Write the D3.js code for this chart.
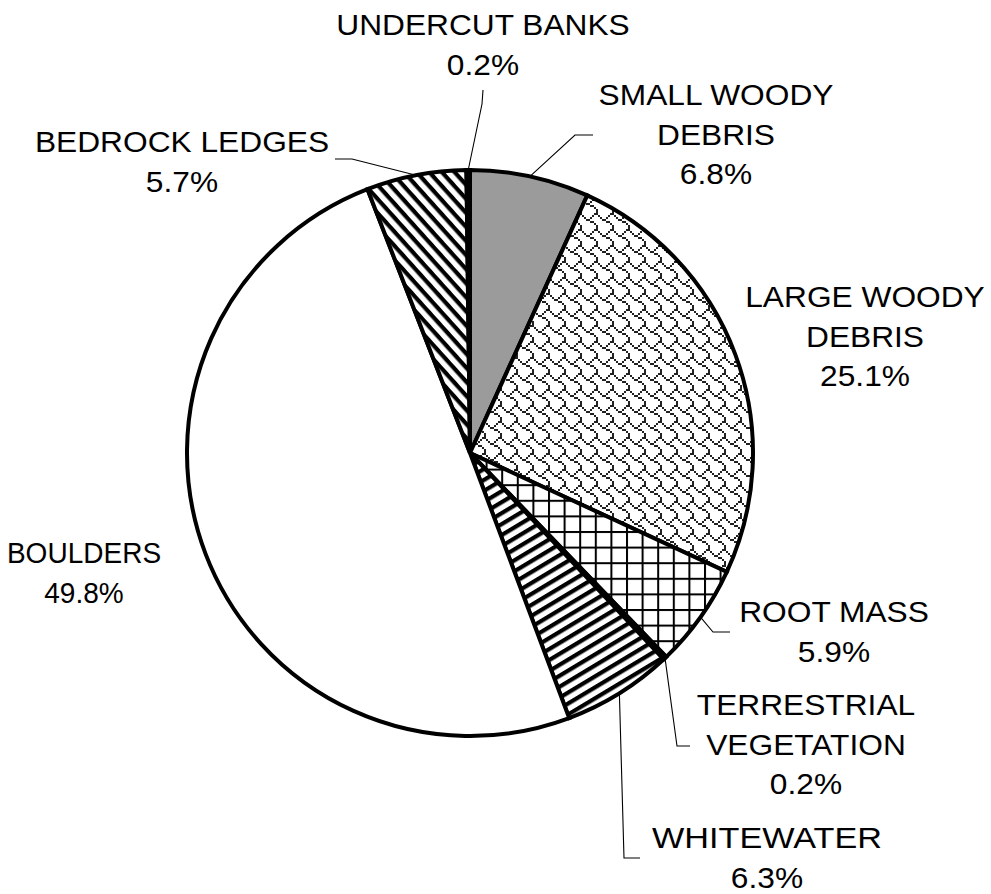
<!DOCTYPE html>
<html>
<head>
<meta charset="utf-8">
<script src="https://cdn.jsdelivr.net/npm/d3@7/dist/d3.min.js"></script>
<style>
  html, body { margin: 0; padding: 0; background: #fff; }
  svg { display: block; }
  text { font-family: "Liberation Sans", Arial, sans-serif; fill: #000; }
</style>
</head>
<body>
<svg id="chart" width="991" height="894"></svg>
<script>
// ---- data ----
const categories = ["SMALL WOODY DEBRIS", "LARGE WOODY DEBRIS", "ROOT MASS", "TERRESTRIAL VEGETATION",
                    "WHITEWATER", "BOULDERS", "BEDROCK LEDGES", "UNDERCUT BANKS"];
const values = [6.8, 25.1, 5.9, 0.2, 6.3, 49.8, 5.7, 0.2];
const labelLines = [["SMALL WOODY", "DEBRIS"], ["LARGE WOODY", "DEBRIS"], ["ROOT MASS"], ["TERRESTRIAL", "VEGETATION"],
                    ["WHITEWATER"], ["BOULDERS"], ["BEDROCK LEDGES"], ["UNDERCUT BANKS"]];
const percentLabels = ["6.8%", "25.1%", "5.9%", "0.2%", "6.3%", "49.8%", "5.7%", "0.2%"];

// ---- layout ----
const W = 991, H = 894;
const cx = 470, cy = 453, R = 283;
const fills = ["#9b9b9b", "url(#shingle)", "url(#grid)", "#000", "url(#upDiag)", "#fff", "url(#downDiag)", "#000"];
// label anchor (center x, first baseline y), horizontal scale per line and leader elbow/end points
const labelPos = [
  {x: 716, y: 105, sx: [1.075, 1.075, 1.075], leader: [[575, 135], [593, 135]]},
  {x: 865, y: 307, sx: [1.075, 1.075, 1.075], leader: null},
  {x: 834, y: 622, sx: [1.075, 1.075], leader: [[713, 632], [730, 632]]},
  {x: 806, y: 715, sx: [1.075, 1.075, 1.075], leader: [[677, 746], [690, 746]]},
  {x: 767, y: 848, sx: [1.16, 1.075], leader: [[624, 858], [640, 858]]},
  {x: 84,  y: 563, sx: [0.95, 0.95], leader: null},
  {x: 182, y: 152, sx: [1.075, 1.075], leader: [[352, 159], [335, 159]]},
  {x: 483, y: 35,  sx: [1.075, 1.075], leader: [[482, 104], [483, 90]]}
];
const lineH = 39.5;
const fontSize = 29.5;

const svg = d3.select("#chart");
const defs = svg.append("defs");

// shingle pattern (8x8 bitmap scaled 2x)
const shingleBits = [0x03, 0x84, 0x48, 0x30, 0x0c, 0x02, 0x01, 0x01];
const sh = defs.append("pattern").attr("id", "shingle").attr("patternUnits", "userSpaceOnUse")
  .attr("width", 16).attr("height", 16);
sh.append("rect").attr("width", 16).attr("height", 16).attr("fill", "#fff");
shingleBits.forEach((b, row) => {
  for (let col = 0; col < 8; col++) {
    if (b & (0x80 >> col)) {
      sh.append("rect").attr("x", col * 2).attr("y", row * 2).attr("width", 2).attr("height", 2).attr("fill", "#222");
    }
  }
});

// grid pattern
const gp = defs.append("pattern").attr("id", "grid").attr("patternUnits", "userSpaceOnUse")
  .attr("width", 15.6).attr("height", 15.6);
gp.append("rect").attr("width", 15.6).attr("height", 15.6).attr("fill", "#fff");
gp.append("rect").attr("x", 0).attr("y", 0).attr("width", 2).attr("height", 15.6).attr("fill", "#000");
gp.append("rect").attr("x", 0).attr("y", 0).attr("width", 15.6).attr("height", 2).attr("fill", "#000");

// diagonal stripe patterns
function stripes(id, angle, period, thick) {
  const p = defs.append("pattern").attr("id", id).attr("patternUnits", "userSpaceOnUse")
    .attr("width", 40).attr("height", period).attr("patternTransform", `rotate(${angle})`);
  p.append("rect").attr("width", 40).attr("height", period).attr("fill", "#fff");
  p.append("rect").attr("y", 0).attr("width", 40).attr("height", thick).attr("fill", "#000");
}
stripes("upDiag", -31, 9.4, 4.2);
stripes("downDiag", 48, 9.4, 4.2);

const pie = d3.pie().sort(null).value(d => d)(values);
const arc = d3.arc().innerRadius(0).outerRadius(R);

const g = svg.append("g").attr("transform", `translate(${cx},${cy})`);
g.selectAll("path.slice").data(pie).join("path")
  .attr("class", "slice")
  .attr("d", arc)
  .attr("fill", (d, i) => fills[i])
  .attr("stroke", "#000")
  .attr("stroke-width", 4)
  .attr("stroke-linejoin", "miter");

// leaders
pie.forEach((d, i) => {
  const lp = labelPos[i];
  if (!lp.leader) return;
  const a = (d.startAngle + d.endAngle) / 2;
  const start = [cx + R * Math.sin(a), cy - R * Math.cos(a)];
  const pts = [start, ...lp.leader];
  svg.append("path")
    .attr("d", d3.line()(pts))
    .attr("fill", "none")
    .attr("stroke", "#000")
    .attr("stroke-width", 1.1);
});

// labels
pie.forEach((d, i) => {
  const lp = labelPos[i];
  const lines = [...labelLines[i], percentLabels[i]];
  lines.forEach((t, k) => {
    svg.append("text")
      .attr("transform", `translate(${lp.x},${lp.y + k * lineH}) scale(${lp.sx[k]},1)`)
      .attr("text-anchor", "middle")
      .attr("font-size", fontSize)
      .text(t);
  });
});
</script>
</body>
</html>
